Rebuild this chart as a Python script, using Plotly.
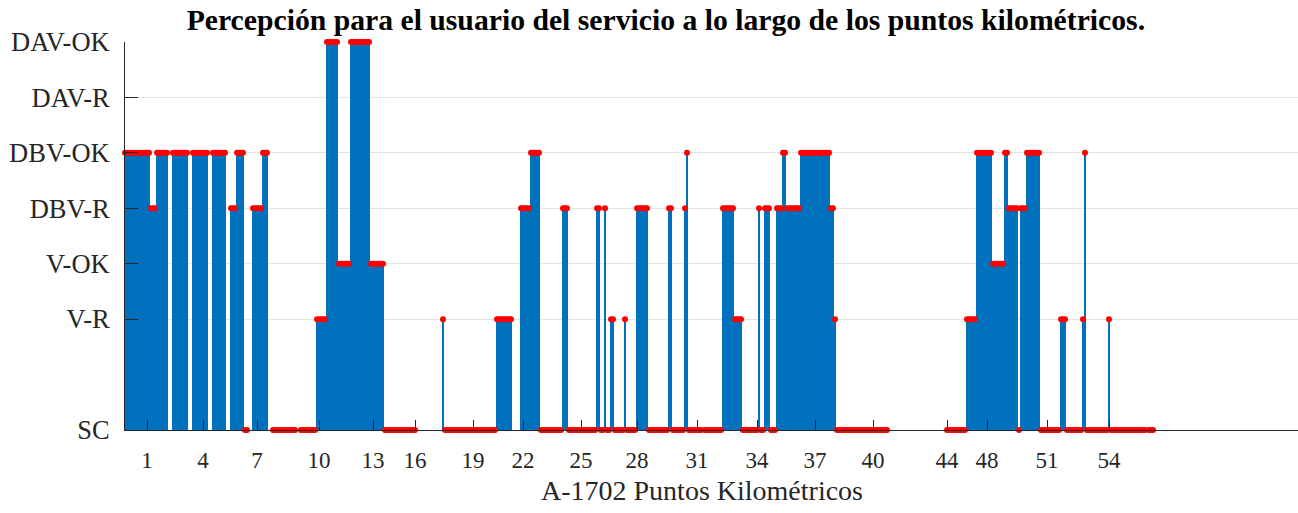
import numpy as np
import plotly.graph_objects as go

# service levels (numeric value -> label)
level_vals = [0, 2, 3, 4, 5, 6, 7]
level_names = ['SC', 'V-R', 'V-OK', 'DBV-R', 'DBV-OK', 'DAV-R', 'DAV-OK']

# perceived level per sample, run-length encoded (None = no measurement)
run_levels = [
    5, 4, 5, None, 5, None, 5, None, 5, None, 4, 5, 0, None, 4, 5, None,
    0, None, 0, 2, 7, 3, 7, 3, 0, None, 2, 0, 2, None, 4, 5, 0, 4, 0, 4,
    0, 4, 0, 2, 0, 2, 0, 4, 0, 4, 0, 4, 5, 0, None, 0, 4, 2, 0, 4, 0, 4,
    0, 4, 5, 4, 5, 4, 2, 0, None, 0, 2, 5, 3, 5, 4, 0, 4, 5, 0, 2, 0, 2,
    5, 0, 2, 0, None, 0,
]
run_lengths = [
    13, 3, 6, 2, 8, 2, 8, 2, 7, 2, 3, 4, 2, 2, 5, 3, 2,
    12, 2, 8, 5, 6, 6, 10, 7, 16, 13, 1, 26, 8, 4, 5, 5, 11, 3, 14, 2,
    2, 1, 2, 2, 5, 1, 5, 6, 10, 2, 6, 1, 1, 7, 1, 9, 6, 4, 8, 1, 2, 3,
    3, 3, 2, 7, 15, 2, 1, 26, 29, 10, 5, 8, 6, 2, 5, 1, 3, 7, 10, 3, 8, 1,
    1, 11, 1, 18, 1, 3,
]

# sample index of each kilometre point label
km_idx = [11, 39, 66, 97, 124, 145, 174, 199, 228, 256, 286, 316, 345, 374, 411, 431, 461, 492]
km_labels = ['1', '4', '7', '10', '13', '16', '19', '22', '25', '28', '31', '34',
             '37', '40', '44', '48', '51', '54']

values = []
for lv, n in zip(run_levels, run_lengths):
    values += [lv] * n
idx = np.arange(len(values))

stem_x, stem_y = [], []
for i, v in zip(idx, values):
    if v is None:
        continue
    stem_x += [i, i, None]
    stem_y += [0, v, None]

fig = go.Figure()
fig.add_trace(go.Scatter(
    x=stem_x, y=stem_y, mode='lines',
    line=dict(color='#0072BD', width=2),
    hoverinfo='skip', showlegend=False,
))
fig.add_trace(go.Scatter(
    x=idx, y=values, mode='markers',
    marker=dict(color='#FF0000', size=6),
    cliponaxis=False, showlegend=False,
))

fig.update_xaxes(
    range=[0, 586.5], tickvals=km_idx, ticktext=km_labels,
    showgrid=False, zeroline=False, automargin=False,
    showline=True, linecolor='#262626', linewidth=1,
    ticks='inside', ticklen=10, tickcolor='#262626',
    ticklabelstandoff=9,
    tickfont=dict(family='Liberation Serif', size=23, color='#262626'),
)
fig.update_yaxes(
    range=[0, 7], tickvals=level_vals, ticktext=level_names,
    showgrid=True, gridcolor='#e3e3e3', gridwidth=1, zeroline=False, automargin=False,
    showline=True, linecolor='#262626', linewidth=1,
    ticks='inside', ticklen=13, tickcolor='#262626',
    ticklabelstandoff=9,
    tickfont=dict(family='Liberation Serif', size=26.5, color='#262626'),
)
fig.add_annotation(
    text='A-1702 Puntos Kilométricos', xref='paper', yref='paper',
    x=(702 - 125) / 1173, y=-0.155, xanchor='center', yanchor='middle',
    showarrow=False, font=dict(family='Liberation Serif', size=28, color='#262626'),
)
fig.update_layout(
    width=1298, height=513,
    margin=dict(l=125, r=0, t=42, b=83),
    plot_bgcolor='white', paper_bgcolor='white',
    title=dict(
        text='<b>Percepción para el usuario del servicio a lo largo de los puntos kilométricos.</b>',
        x=0.513, xref='container', xanchor='center',
        y=0.962, yref='container', yanchor='middle',
        font=dict(family='Liberation Serif', size=29.7, color='black'),
    ),
)
fig.write_html("out.html", config={'displayModeBar': False},
               post_script="document.body.style.margin='0px';")
